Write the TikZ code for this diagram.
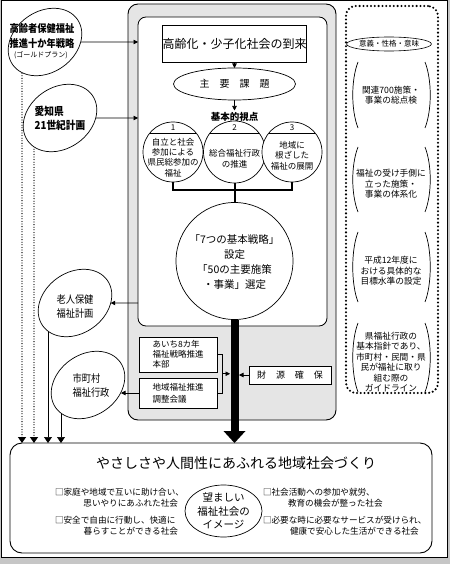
\documentclass[tikz,border=0pt]{standalone}
\usepackage{fontspec}
\setmainfont{Noto Sans CJK JP}
\newfontfamily\cond{Noto Sans CJK JP}[FakeStretch=0.88]
\usetikzlibrary{shapes.geometric,arrows.meta,calc}
\pgfdeclarelayer{back}
\pgfdeclarelayer{mid}
\pgfsetlayers{back,mid,main}
\newcommand{\fs}[2]{\fontsize{#1}{#2}\selectfont}
\begin{document}
\begin{tikzpicture}[x=1pt,y=-1pt,
  every node/.style={inner sep=0pt, outer sep=0pt, align=center},
  oval/.style={draw, ellipse, fill=white, line width=0.7pt, minimum width=79pt, minimum height=61pt, rotate=35},
  box/.style={draw, fill=white, line width=0.7pt},
  ring/.style={draw, circle, fill=white, line width=0.7pt},
  arr/.style={-{Triangle[length=4.5pt,width=4.5pt]}, line width=0.6pt},
  downarr/.style={-{Triangle[length=6pt,width=8pt]}, line width=0.7pt},
  dotarr/.style={downarr, line width=1.3pt, dash pattern=on 0pt off 2.6pt, line cap=round},
  thickl/.style={line width=2pt},
  paren/.style={line width=0.7pt},
  lbl/.style={font=\fs{8.6}{10}},
]
\useasboundingbox (0,0) rectangle (450,564);
\begin{pgfonlayer}{back}
  \fill[gray!45] (0,0) rectangle (450,564);
  \draw[fill=white, line width=1pt] (1,1) rectangle (447,557);
  \node[draw, fill=gray!20, line width=0.9pt, rounded corners=10pt, minimum width=208pt, minimum height=416pt] (outer) at (232,212) {};
  \node[draw, fill=white, line width=0.8pt, rounded corners=8pt, minimum width=189pt, minimum height=309pt] (inner) at (232.5,171.5) {};
  \node[draw, line width=2.3pt, dash pattern=on 0pt off 3.8pt, line cap=round, rounded corners=10pt, minimum width=92pt, minimum height=387pt] (rbox) at (392,199.5) {};
  \node[draw, fill=white, line width=0.9pt, rounded corners=12pt, minimum width=422pt, minimum height=110pt] (bot) at (221,498) {};
\end{pgfonlayer}

% left ellipses
\node[oval] (gp) at (45,42) {};
\node[font=\cond\fs{10.5}{15}\bfseries] (gpT) at (42,36) {高齢者保健福祉\\推進十か年戦略};
\node[font=\fs{7}{8}] (gpS) at (41,55.5) {(ゴールドプラン)};
\node[oval] (ai) at (60,118) {};
\node[font=\cond\fs{11}{13.5}\bfseries, align=left] (aiT) at (60,118.5) {愛知県\\21世紀計画};
\node[oval] (rj) at (75,303) {};
\node[font=\cond\fs{10.5}{13.5}] (rjT) at (75,306.5) {老人保健\\福祉計画};
\node[oval] (sh) at (88,385) {};
\node[font=\cond\fs{10.5}{14}, align=left] (shT) at (91,385) {市町村\\福祉行政};

% central column
\node[box, minimum width=137pt, minimum height=37pt, font=\fs{12}{14}] (top) at (234.5,43.5) {高齢化・少子化社会の到来};
\node[draw, ellipse, fill=white, line width=0.7pt, minimum width=122pt, minimum height=32pt, font=\fs{10}{12}] (kadai) at (234.5,84) {主\hspace{1em}要\hspace{1em}課\hspace{1em}題};
\node[font=\fs{9.5}{11}\bfseries] (kihon) at (234.5,117) {基本的視点};
\node[ring, minimum size=60pt] (c1) at (173,152) {};
\node[ring, minimum size=62pt] (c2) at (234.5,152) {};
\node[ring, minimum size=60pt] (c3) at (292,152) {};
\draw[line width=0.6pt] ($(c1.center)+(-23.2,-19)$) -- ($(c1.center)+(23.2,-19)$);
\draw[line width=0.6pt] ($(c2.center)+(-24.5,-19)$) -- ($(c2.center)+(24.5,-19)$);
\draw[line width=0.6pt] ($(c3.center)+(-23.2,-19)$) -- ($(c3.center)+(23.2,-19)$);
\node[font=\fs{8}{8}] (n1) at (173,127.5) {1};
\node[font=\fs{8}{8}] (n2) at (234.5,127.5) {2};
\node[font=\fs{8}{8}] (n3) at (292,127.5) {3};
\node[font=\fs{8.5}{10.3}] (t1) at (173,157.5) {自立と社会\\参加による\\県民総参加の\\福祉};
\node[font=\fs{8.5}{11.5}] (t2) at (234.5,159) {総合福祉行政\\の推進};
\node[font=\fs{8.5}{10.5}] (t3) at (292,155.5) {地域に\\根ざした\\福祉の展開};
\node[ring, minimum size=117pt] (big) at (234.5,261) {};
\node[font=\fs{10.5}{15}] (bigT) at (234.5,262) {「7つの基本戦略」\\設定\\「50の主要施策\\・事業」選定};

\node[box, minimum width=78pt, minimum height=35pt, font=\fs{8.5}{10}, align=left] (b1) at (178,354.5) {あいち8カ年\\福祉戦略推進\\本部};
\node[box, minimum width=78pt, minimum height=30pt, font=\fs{8.5}{12}, align=left] (b2) at (178,393) {地域福祉推進\\調整会議};
\node[box, minimum width=82pt, minimum height=18pt, font=\fs{9}{10}] (zg) at (290,375) {財\hspace{1.1em}源\hspace{1.1em}確\hspace{1.1em}保};

% right column
\node[draw, ellipse, line width=0.6pt, minimum width=72pt, minimum height=14pt, font=\fs{7.5}{8}] (igi) at (389,44) {意義・性格・意味};
\node[font=\fs{8.7}{10.5}] (g1) at (391,95) {関連700施策・\\事業の総点検};
\node[font=\fs{8.7}{10.5}] (g2) at (391,184) {福祉の受け手側に\\立った施策・\\事業の体系化};
\node[font=\fs{8.7}{10.5}] (g3) at (391,271) {平成12年度に\\おける具体的な\\目標水準の設定};
\node[font=\fs{8.7}{10.4}] (g4) at (391,362) {県福祉行政の\\基本指針であり、\\市町村・民間・県\\民が福祉に取り\\組む際の\\ガイドライン};
\foreach \t/\b in {62/128,147/212,232/302,323/392} {
  \draw[paren] (358,\t) .. controls (351,\t+18) and (351,\b-18) .. (358,\b);
  \draw[paren] (425,\t) .. controls (432,\t+18) and (432,\b-18) .. (425,\b);
}

% bottom box content
\node[font=\fs{14}{16}] (title) at (236,463) {やさしさや人間性にあふれる地域社会づくり};
\node[draw, ellipse, fill=white, line width=0.7pt, minimum width=77pt, minimum height=52pt, font=\fs{10.5}{13.5}] (img) at (223.5,511) {望ましい\\福祉社会の\\イメージ};
\node[lbl, anchor=west] (l1) at (55,492) {□家庭や地域で互いに助け合い、};
\node[lbl, anchor=east] (l2) at (178,503) {思いやりにあふれた社会};
\node[lbl, anchor=west] (l3) at (55,520) {□安全で自由に行動し、快適に};
\node[lbl, anchor=east] (l4) at (178,531) {暮らすことができる社会};
\node[lbl, anchor=west] (r1) at (263,492) {□社会活動への参加や就労、};
\node[lbl, anchor=west] (r2) at (288,503) {教育の機会が整った社会};
\node[lbl, anchor=west] (r3) at (263,520) {□必要な時に必要なサービスが受けられ、};
\node[lbl, anchor=west] (r4) at (290,531) {健康で安心した生活ができる社会};

% connectors
\begin{pgfonlayer}{mid}
  \draw[arr] (gp) -- (gp -| inner.west);
  \draw[arr] (ai) -- (ai -| inner.west);
  \draw[arr] (rj -| inner.west) -- (rj);
  \draw[arr, shorten >=33pt] (b2.west) -- (b2.west -| sh.center);
  \coordinate (x1) at (22,0);
  \coordinate (x2) at (34,0);
  \coordinate (x3) at (48,0);
  \coordinate (x4) at (61,0);
  \draw[dotarr] (gp -| x1) -- (x1 |- bot.north);
  \draw[dotarr] (ai -| x2) -- (x2 |- bot.north);
  \draw[downarr] (rj -| x3) -- (x3 |- bot.north);
  \draw[downarr] (sh -| x4) -- (x4 |- bot.north);
  \draw[arr] (top) -- (kadai);
  \draw[arr, shorten >=2pt] (kadai) -- (kihon);
  \coordinate (barc) at (234.5,190);
  \draw[thickl] (c1) |- (barc) -| (c3);
  \draw[thickl] (c2) -- (big);
  \coordinate (tip) at (big |- bot.north);
  \draw[line width=8pt] (big) -- ($(tip)+(0,-11)$);
  \fill ($(tip)+(-11,-12)$) -- ($(tip)+(11,-12)$) -- (tip) -- cycle;
  \coordinate (shaftL) at ($(big.south)+(-4.5,0)$);
  \coordinate (shaftR) at ($(big.south)+(4.5,0)$);
  \draw[line width=0.6pt] (b1.east) -- ++(5,0) coordinate (k1) |- (b2.east);
  \coordinate (k2) at ($(k1)!0.5!(k1 |- b2.east)$);
  \draw[arr] (k2) -- (k2 -| shaftL);
  \draw[arr] (zg) -- (zg -| shaftR);
\end{pgfonlayer}
\end{tikzpicture}
\end{document}
